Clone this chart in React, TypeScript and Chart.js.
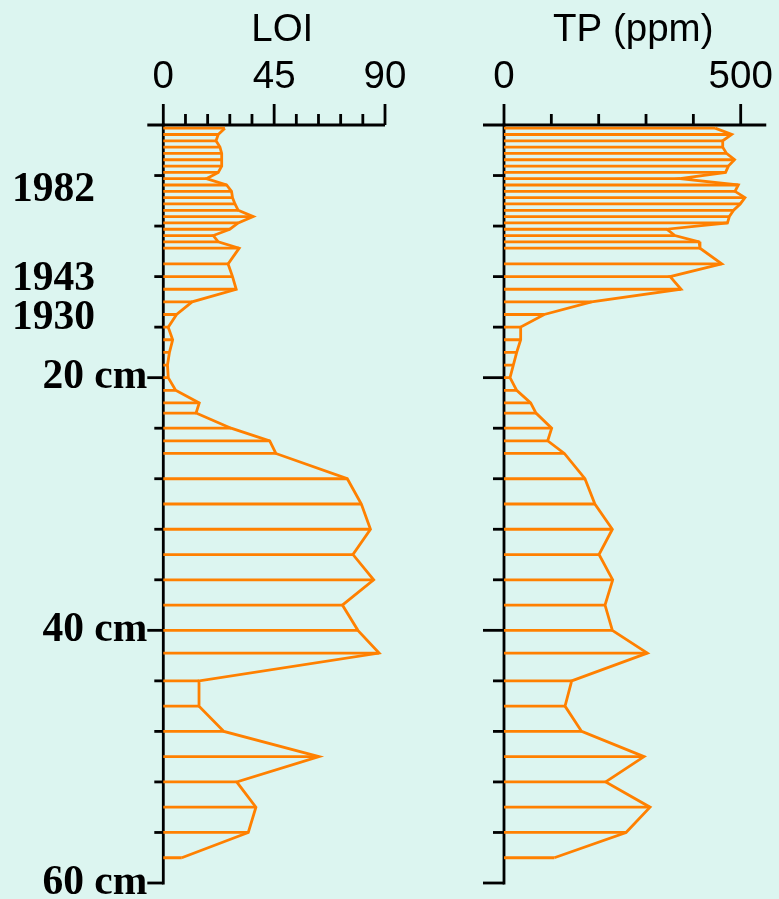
import React, { useEffect, useRef } from "react";
import { Chart, registerables } from "chart.js";

Chart.register(...registerables);

// ---- data ----
const depthsCm = [
  0.25, 0.75, 1.25, 1.75, 2.25, 2.75, 3.25, 3.75, 4.25, 4.75,
  5.25, 5.75, 6.25, 6.75, 7.25, 7.75, 8.25, 8.75, 9.25, 9.75,
  11, 12, 13, 14, 15, 16, 17, 18, 19, 20, 21, 22, 22.8, 24, 25, 26,
  28, 30, 32, 34, 36, 38, 40, 41.8, 44, 46, 48, 50, 52, 54, 56, 58,
];

const loiValues = [
  25.0, 22.3, 21.4, 23.0, 23.7, 23.7, 23.7, 22.3, 17.5, 25.7,
  27.7, 28.1, 29.1, 30.4, 36.5, 30.4, 27.0, 20.3, 22.3, 30.8,
  26.3, 28.1, 29.6, 11.7, 5.4, 2.0, 3.8, 2.5, 1.7, 2.0, 5.0, 14.6, 13.3, 27.5, 43.2, 45.7,
  74.7, 80.4, 84.1, 77.0, 85.4, 72.7, 79.0, 87.6, 14.5, 14.5, 24.6, 63.2, 29.8, 37.6, 34.5, 7.5,
];

const tpValues = [
  446, 481, 462, 462, 470, 487, 474, 468, 372, 495,
  488, 509, 499, 485, 476, 472, 344, 361, 412, 414,
  460, 351, 374, 185, 85, 35.2, 35.2, 26.8, 19.7, 12.7, 26.8, 56.3, 67.6, 100.7, 92.3, 127.5,
  171, 192, 228.9, 200.7, 229.6, 213.4, 228.9, 302.8, 143, 128.9, 164, 295.8, 214.8, 308.5, 257.8, 106.3,
];

const loiTickLabels = [0, 45, 90];
const tpTickLabels = [0, 500];
const depthLabelValues = [20, 40, 60];
const depthLabelTexts = ["20 cm", "40 cm", "60 cm"];
const yearTexts = ["1982", "1943", "1930"];
const yearDepths = [5.2, 12.2, 15.3];

// ---- style ----
const BG = "#dcf5f0";
const ORANGE = "#ff8000";
const W = 779;
const H = 899;

type Spec = {
  values: number[];
  xMax: number;
  tickStep: number;
  labelTicks: number[];
  title: string;
  titleAt: number;
  axisEndAt: number;
  left: number;
  right: number;
  depthMajorLen: number;
  depthMinorLen: number;
  depthLabels: boolean;
};

const LOI_SPEC: Spec = {
  values: loiValues,
  xMax: 90,
  tickStep: 9,
  labelTicks: loiTickLabels,
  title: "LOI",
  titleAt: 48.3,
  axisEndAt: 90,
  left: 163.3,
  right: 385,
  depthMajorLen: 16,
  depthMinorLen: 9,
  depthLabels: true,
};

const TP_SPEC: Spec = {
  values: tpValues,
  xMax: 500,
  tickStep: 100,
  labelTicks: tpTickLabels,
  title: "TP (ppm)",
  titleAt: 273,
  axisEndAt: 554,
  left: 504,
  right: 740.7,
  depthMajorLen: 21,
  depthMinorLen: 11,
  depthLabels: false,
};

function axesPlugin(spec: Spec) {
  return {
    id: "panelAxes",
    beforeDatasetsDraw(chart: any) {
      const ctx: CanvasRenderingContext2D = chart.ctx;
      const xs = chart.scales.x;
      const ys = chart.scales.y;
      const x0 = xs.getPixelForValue(0);
      const yTop = ys.getPixelForValue(0);
      const yBot = ys.getPixelForValue(60);
      ctx.save();
      ctx.strokeStyle = "#000";
      ctx.fillStyle = "#000";
      ctx.lineWidth = 2.8;
      ctx.lineCap = "butt";

      // top axis line
      ctx.beginPath();
      ctx.moveTo(x0 - spec.depthMajorLen, yTop);
      ctx.lineTo(xs.getPixelForValue(spec.axisEndAt), yTop);
      ctx.stroke();

      // top ticks
      for (let v = 0; v <= spec.xMax + 1e-9; v += spec.tickStep) {
        const major = spec.labelTicks.includes(v);
        const x = xs.getPixelForValue(v);
        ctx.beginPath();
        ctx.moveTo(x, yTop);
        ctx.lineTo(x, yTop - (major ? 21 : 11));
        ctx.stroke();
      }

      // depth axis
      ctx.beginPath();
      ctx.moveTo(x0, yTop - 1.4);
      ctx.lineTo(x0, yBot + 1.4);
      ctx.stroke();
      for (let d = 4; d <= 60; d += 4) {
        const major = d % 20 === 0;
        const y = ys.getPixelForValue(d);
        ctx.beginPath();
        ctx.moveTo(x0, y);
        ctx.lineTo(x0 - (major ? spec.depthMajorLen : spec.depthMinorLen), y);
        ctx.stroke();
      }

      // tick labels
      ctx.font = "38.5px 'Liberation Sans', Arial, sans-serif";
      ctx.textAlign = "center";
      ctx.textBaseline = "alphabetic";
      spec.labelTicks.forEach((v) => {
        ctx.fillText(String(v), xs.getPixelForValue(v), yTop - 37);
      });
      // title
      ctx.fillText(spec.title, xs.getPixelForValue(spec.titleAt), yTop - 84.3);

      if (spec.depthLabels) {
        ctx.font = "bold 41.5px 'Liberation Serif', 'Times New Roman', serif";
        ctx.textAlign = "right";
        ctx.textBaseline = "middle";
        depthLabelValues.forEach((d, i) => {
          ctx.fillText(depthLabelTexts[i], x0 - spec.depthMajorLen, ys.getPixelForValue(d));
        });
        yearTexts.forEach((t, i) => {
          ctx.fillText(t, x0 - 68.3, ys.getPixelForValue(yearDepths[i]));
        });
      }
      ctx.restore();
    },
  };
}

function buildConfig(spec: Spec): any {
  const profile = depthsCm.map((d, i) => ({ x: spec.values[i], y: d }));
  const stems: any[] = [];
  depthsCm.forEach((d, i) => {
    stems.push({ x: 0, y: d });
    stems.push({ x: spec.values[i], y: d });
    stems.push({ x: null, y: null });
  });
  return {
    type: "line",
    data: {
      datasets: [
        {
          data: stems,
          borderColor: ORANGE,
          borderWidth: 2.8,
          pointRadius: 0,
          spanGaps: false,
          clip: false,
          tension: 0,
        },
        {
          data: profile,
          borderColor: ORANGE,
          borderWidth: 2.8,
          pointRadius: 0,
          clip: false,
          tension: 0,
          borderJoinStyle: "miter",
        },
      ],
    },
    options: {
      responsive: false,
      animation: false,
      events: [],
      layout: {
        padding: { left: spec.left, right: W - spec.right, top: 125, bottom: H - 883 },
      },
      plugins: { legend: { display: false }, tooltip: { enabled: false } },
      scales: {
        x: { type: "linear", min: 0, max: spec.xMax, display: false },
        y: { type: "linear", min: 0, max: 60, reverse: true, display: false },
      },
    },
    plugins: [axesPlugin(spec)],
  };
}

export default function App() {
  const loiRef = useRef<HTMLCanvasElement>(null);
  const tpRef = useRef<HTMLCanvasElement>(null);
  useEffect(() => {
    const c1 = new Chart(loiRef.current as HTMLCanvasElement, buildConfig(LOI_SPEC));
    const c2 = new Chart(tpRef.current as HTMLCanvasElement, buildConfig(TP_SPEC));
    return () => {
      c1.destroy();
      c2.destroy();
    };
  }, []);
  const cs: React.CSSProperties = { position: "absolute", left: 0, top: 0, width: W, height: H };
  return (
    <div style={{ position: "absolute", left: 0, top: 0, width: W, height: H, background: BG, overflow: "hidden" }}>
      <canvas ref={loiRef} width={W} height={H} style={cs} />
      <canvas ref={tpRef} width={W} height={H} style={cs} />
    </div>
  );
}
